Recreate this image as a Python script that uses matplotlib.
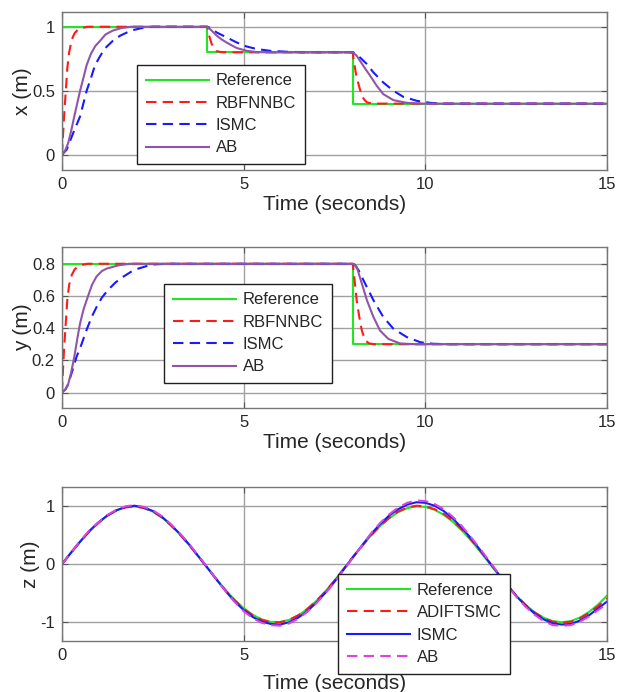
import numpy as np
import matplotlib
matplotlib.use("Agg")
import matplotlib.pyplot as plt

plt.rcParams['font.family'] = ['Liberation Sans', 'DejaVu Sans']
plt.rcParams['axes.unicode_minus'] = False

# ---------------- x data ----------------
ref_x_t = [0, 4, 4, 8, 8, 15]
ref_x_v = [1, 1, 0.8, 0.8, 0.4, 0.4]

rbf_x_t = [0, 0.03, 0.06, 0.1, 0.15, 0.2, 0.27, 0.35, 0.45, 0.55, 0.7, 1.0,
           4.0, 4.05, 4.12, 4.2, 4.26, 4.35, 4.5,
           8.0, 8.02, 8.09, 8.16, 8.25, 8.32, 8.39, 8.5, 8.7, 15]
rbf_x_v = [0, 0.15, 0.3, 0.47, 0.68, 0.8, 0.9, 0.95, 0.98, 0.99, 1.0, 1.0,
           1.0, 0.93, 0.865, 0.83, 0.81, 0.803, 0.8,
           0.8, 0.75, 0.63, 0.55, 0.46, 0.43, 0.41, 0.403, 0.4, 0.4]

ismc_x_t = [0, 0.13, 0.31, 0.5, 0.68, 0.8, 0.91, 1.05, 1.18, 1.4, 1.6, 1.9, 2.2, 2.5, 3.0,
            4.0, 4.1, 4.26, 4.53, 4.81, 5.08, 5.36, 5.73, 6.18, 6.6,
            8.0, 8.08, 8.2, 8.39, 8.57, 8.84, 9.12, 9.39, 9.76, 10.13, 10.5, 15]
ismc_x_v = [0, 0.04, 0.17, 0.30, 0.5, 0.6, 0.70, 0.77, 0.83, 0.89, 0.93, 0.97, 0.99, 1.0, 1.0,
            1.0, 0.99, 0.955, 0.917, 0.877, 0.846, 0.826, 0.812, 0.805, 0.8,
            0.8, 0.79, 0.76, 0.708, 0.643, 0.565, 0.5, 0.453, 0.422, 0.406, 0.4, 0.4]

ab_x_t = [0, 0.1, 0.17, 0.25, 0.34, 0.42, 0.5, 0.6, 0.68, 0.8, 0.92, 1.05, 1.2, 1.4, 1.64, 1.9, 2.2,
          4.0, 4.1, 4.26, 4.4, 4.53, 4.67, 4.81, 5.08, 5.36, 5.8,
          8.0, 8.11, 8.29, 8.48, 8.66, 8.84, 9.12, 9.49, 9.9, 15]
ab_x_v = [0, 0.04, 0.09, 0.18, 0.3, 0.4, 0.5, 0.61, 0.70, 0.79, 0.85, 0.89, 0.94, 0.97, 0.99, 1.0, 1.0,
          1.0, 0.975, 0.93, 0.9, 0.877, 0.855, 0.834, 0.8125, 0.802, 0.8,
          0.8, 0.773, 0.695, 0.617, 0.539, 0.474, 0.427, 0.406, 0.4, 0.4]

# ---------------- y data ----------------
ref_y_t = [0, 8, 8, 15]
ref_y_v = [0.8, 0.8, 0.3, 0.3]

rbf_y_t = [0, 0.03, 0.06, 0.1, 0.15, 0.2, 0.27, 0.35, 0.45, 0.55, 0.7, 1.0,
           8.0, 8.04, 8.11, 8.18, 8.25, 8.34, 8.45, 8.6, 15]
rbf_y_v = [0, 0.14, 0.27, 0.41, 0.58, 0.67, 0.73, 0.765, 0.785, 0.793, 0.8, 0.8,
           0.8, 0.72, 0.57, 0.47, 0.385, 0.325, 0.305, 0.3, 0.3]

ismc_y_t = [0, 0.1, 0.17, 0.28, 0.4, 0.54, 0.68, 0.82, 0.95, 1.1, 1.28, 1.48, 1.69, 1.9, 2.1, 2.47, 2.8,
            8.0, 8.05, 8.16, 8.34, 8.57, 8.84, 9.12, 9.49, 9.86, 10.2, 10.6, 15]
ismc_y_v = [0, 0.02, 0.05, 0.13, 0.22, 0.3, 0.39, 0.47, 0.53, 0.59, 0.64, 0.685, 0.72, 0.75, 0.77, 0.795, 0.8,
            0.8, 0.795, 0.76, 0.677, 0.573, 0.469, 0.396, 0.344, 0.3125, 0.303, 0.3, 0.3]

ab_y_t = [0, 0.1, 0.17, 0.25, 0.34, 0.42, 0.5, 0.6, 0.72, 0.83, 0.95, 1.1, 1.23, 1.55, 1.85, 2.2,
          8.0, 8.05, 8.11, 8.25, 8.39, 8.57, 8.75, 8.98, 9.3, 9.7, 15]
ab_y_v = [0, 0.02, 0.05, 0.12, 0.22, 0.33, 0.43, 0.52, 0.6, 0.67, 0.72, 0.755, 0.77, 0.79, 0.8, 0.8,
          0.8, 0.795, 0.78, 0.677, 0.573, 0.469, 0.385, 0.333, 0.305, 0.3, 0.3]

# ---------------- z data (sampled every 0.25 s) ----------------
z_t = np.arange(61) * 0.25
ref_z = [0, 0.199, 0.389, 0.565, 0.717, 0.841, 0.932, 0.985, 1.0, 0.974, 0.909, 0.808, 0.675, 0.516, 0.335, 0.141, -0.058,
         -0.256, -0.443, -0.612, -0.757, -0.872, -0.952, -0.994, -0.996, -0.959, -0.883, -0.773, -0.631, -0.465, -0.279, -0.083, 0.117,
         0.312, 0.494, 0.657, 0.794, 0.899, 0.968, 0.999, 0.989, 0.941, 0.855, 0.735, 0.585, 0.412, 0.223, 0.025, -0.174,
         -0.366, -0.544, -0.699, -0.828, -0.922, -0.981, -1.0, -0.980, -0.919, -0.823, -0.694, -0.537]
adif_z = [0, 0.20, 0.39, 0.56, 0.71, 0.84, 0.93, 0.98, 1.00, 0.97, 0.91, 0.81, 0.67, 0.51, 0.33, 0.14, -0.06,
          -0.26, -0.45, -0.62, -0.77, -0.88, -0.96, -1.0, -1.0, -0.96, -0.88, -0.77, -0.63, -0.47, -0.28, -0.08, 0.12,
          0.31, 0.50, 0.66, 0.80, 0.91, 0.98, 1.01, 1.0, 0.95, 0.87, 0.75, 0.60, 0.43, 0.24, 0.04, -0.16,
          -0.36, -0.54, -0.70, -0.83, -0.93, -0.99, -1.01, -0.99, -0.93, -0.84, -0.72, -0.59]
ismc_z = [0, 0.20, 0.39, 0.57, 0.72, 0.84, 0.93, 0.99, 1.01, 0.98, 0.92, 0.82, 0.68, 0.52, 0.34, 0.14, -0.06,
          -0.26, -0.46, -0.64, -0.79, -0.91, -0.99, -1.03, -1.04, -1.00, -0.92, -0.81, -0.66, -0.49, -0.30, -0.09, 0.12,
          0.32, 0.52, 0.69, 0.84, 0.95, 1.03, 1.07, 1.06, 1.01, 0.92, 0.79, 0.63, 0.45, 0.25, 0.04, -0.16,
          -0.36, -0.55, -0.71, -0.85, -0.95, -1.02, -1.04, -1.03, -0.97, -0.88, -0.76, -0.64]
ab_z = [0, 0.20, 0.40, 0.58, 0.72, 0.85, 0.94, 1.00, 1.02, 0.99, 0.93, 0.83, 0.69, 0.53, 0.35, 0.15, -0.05,
        -0.26, -0.46, -0.65, -0.81, -0.93, -1.01, -1.05, -1.06, -1.02, -0.94, -0.82, -0.67, -0.50, -0.31, -0.10, 0.11,
        0.32, 0.53, 0.71, 0.86, 0.98, 1.06, 1.10, 1.09, 1.04, 0.95, 0.82, 0.66, 0.47, 0.27, 0.06, -0.15,
        -0.36, -0.56, -0.73, -0.87, -0.98, -1.05, -1.06, -1.05, -0.99, -0.90, -0.79, -0.68]

xticks = [0, 5, 10, 15]

GREEN = '#22e622'
RED = '#ff1a1a'
BLUE = '#1a1aff'
PURPLE = '#9055aa'
MAGENTA = '#dd44dd'
TXT = '#262626'

fig = plt.figure(figsize=(6.19, 6.92), dpi=100)
ax1 = fig.add_axes([0.100, 0.754, 0.881, 0.229])
ax2 = fig.add_axes([0.100, 0.410, 0.881, 0.233])
ax3 = fig.add_axes([0.100, 0.074, 0.881, 0.222])

LW = 1.5
DASH = (5, 3)


def style(ax, ylabel, ylim, yticks, yticklabels):
    ax.set_xlim(0, 15)
    ax.set_ylim(*ylim)
    ax.set_xticks(xticks)
    ax.set_xticklabels([str(v) for v in xticks])
    ax.set_yticks(yticks)
    ax.set_yticklabels(yticklabels)
    ax.grid(True, color='#a0a0a0', linewidth=1.0)
    ax.set_axisbelow(True)
    ax.tick_params(direction='in', top=True, right=True, length=4, width=0.8,
                   labelsize=12, colors='#555555', labelcolor=TXT, pad=5)
    for s in ax.spines.values():
        s.set_color('#777777')
        s.set_linewidth(1.0)
    ax.set_xlabel('Time (seconds)', fontsize=15, color=TXT, labelpad=2)
    ax.set_ylabel(ylabel, fontsize=15, color=TXT, labelpad=0)


def legend(ax, anchor):
    leg = ax.legend(loc='lower left', bbox_to_anchor=anchor, fontsize=12,
                    handlelength=3.8, handletextpad=0.4, labelspacing=0.44,
                    borderpad=0.53, borderaxespad=0, fancybox=False,
                    framealpha=1, edgecolor='#202020')
    leg.get_frame().set_linewidth(1.0)
    for txt in leg.get_texts():
        txt.set_color(TXT)
    return leg


# --- x plot ---
ax1.plot(ref_x_t, ref_x_v, color=GREEN, lw=LW, label='Reference')
ax1.plot(rbf_x_t, rbf_x_v, color=RED, lw=LW, dashes=DASH, label='RBFNNBC')
ax1.plot(ismc_x_t, ismc_x_v, color=BLUE, lw=LW, dashes=DASH, label='ISMC')
ax1.plot(ab_x_t, ab_x_v, color=PURPLE, lw=LW, label='AB')
style(ax1, 'x (m)', (-0.12, 1.117), [0, 0.5, 1], ['0', '0.5', '1'])
legend(ax1, (0.138, 0.038))

# --- y plot ---
ax2.plot(ref_y_t, ref_y_v, color=GREEN, lw=LW, label='Reference')
ax2.plot(rbf_y_t, rbf_y_v, color=RED, lw=LW, dashes=DASH, label='RBFNNBC')
ax2.plot(ismc_y_t, ismc_y_v, color=BLUE, lw=LW, dashes=DASH, label='ISMC')
ax2.plot(ab_y_t, ab_y_v, color=PURPLE, lw=LW, label='AB')
style(ax2, 'y (m)', (-0.098, 0.904), [0, 0.2, 0.4, 0.6, 0.8], ['0', '0.2', '0.4', '0.6', '0.8'])
legend(ax2, (0.187, 0.155))

# --- z plot ---
ax3.plot(z_t, ref_z, color=GREEN, lw=LW, label='Reference')
ax3.plot(z_t, adif_z, color=RED, lw=LW, dashes=DASH, label='ADIFTSMC')
ax3.plot(z_t, ismc_z, color=BLUE, lw=LW, label='ISMC')
ax3.plot(z_t, ab_z, color=MAGENTA, lw=LW, dashes=DASH, label='AB')
style(ax3, 'z (m)', (-1.32, 1.33), [-1, 0, 1], ['-1', '0', '1'])
ax3.xaxis.labelpad = 8
leg3 = legend(ax3, (0.506, -0.214))
leg3.set_zorder(10)

fig.savefig('out.png', dpi=100)
